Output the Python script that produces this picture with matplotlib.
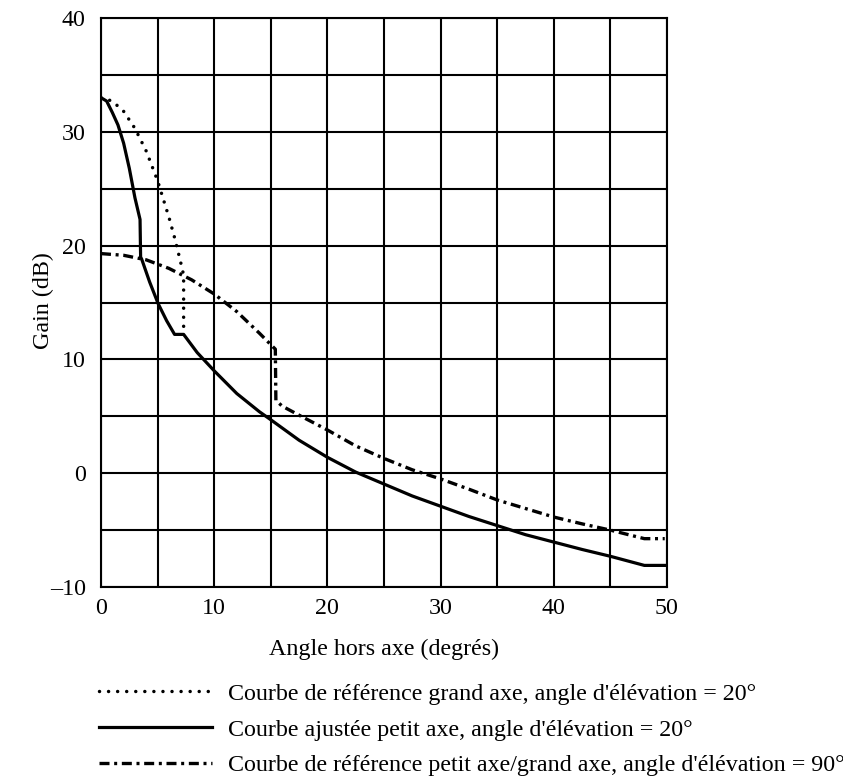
import numpy as np
import matplotlib.pyplot as plt

plt.rcParams['font.family'] = ['Liberation Serif', 'DejaVu Serif']

# courbe ajustée petit axe (trait plein)
solid_x = [0, 0.5, 1.0, 1.5, 2.0, 2.5, 3.0, 3.45, 3.5, 3.6, 4.3, 5.05, 5.8, 6.5, 7.3,
           8.5, 10, 12, 14, 15, 17.5, 20, 22.5, 25, 27.5, 30, 32.5, 35, 37.5, 40,
           42.5, 45, 48, 50]
solid_y = [33.0, 32.7, 31.7, 30.6, 29.0, 26.8, 24.2, 22.3, 19.0, 18.8, 16.8, 14.9, 13.4, 12.2, 12.2,
           10.6, 9.0, 7.0, 5.4, 4.7, 2.9, 1.4, 0.1, -0.95, -2.0, -2.9, -3.8, -4.6, -5.4, -6.05,
           -6.7, -7.3, -8.1, -8.1]

# courbe de référence grand axe (pointillé)
dot_x = [0, 1, 2, 3, 4, 5, 6, 6.5, 7, 7.3, 7.3]
dot_y = [33.0, 32.7, 31.8, 30.3, 28.3, 25.7, 22.5, 20.7, 18.7, 17.4, 12.2]

# courbe de référence petit axe/grand axe, 90° (trait mixte)
dd_x = [0, 2, 4, 6, 8, 10, 12, 14, 15.4, 15.45, 16.0, 17.5, 20, 22.5, 25, 27.5, 30,
        32.5, 35, 37.5, 40, 42.5, 45, 48, 49.8]
dd_y = [19.3, 19.15, 18.75, 18.0, 17.0, 15.75, 14.2, 12.3, 10.9, 6.4, 5.9, 5.1, 3.8, 2.4, 1.3, 0.3, -0.5,
        -1.4, -2.35, -3.1, -3.85, -4.45, -5.0, -5.75, -5.75]

xticks = [0, 10, 20, 30, 40, 50]
yticks = [-10, 0, 10, 20, 30, 40]
ytick_labels = ['\u201310', '0', '10', '20', '30', '40']

labels = ["Courbe de référence grand axe, angle d'élévation = 20°",
          "Courbe ajustée petit axe, angle d'élévation = 20°",
          "Courbe de référence petit axe/grand axe, angle d'élévation = 90°"]

fs = 17.3

fig = plt.figure(figsize=(8.43, 7.77), dpi=100)
ax = fig.add_axes([0.1198, 0.2445, 0.6714, 0.7323])

l1, = ax.plot(dot_x, dot_y, color='black', lw=2.5, linestyle=(0, (0.01, 2.6)),
              dash_capstyle='round', label=labels[0])
l2, = ax.plot(solid_x, solid_y, color='black', lw=2.3, label=labels[1])
l3, = ax.plot(dd_x, dd_y, color='black', lw=2.4, linestyle=(0, (3.0, 1.4, 0.9, 1.4)),
              label=labels[2])

ax.set_xlim(0, 50)
ax.set_ylim(-10, 40)
ax.set_xticks(xticks)
ax.set_xticklabels([str(v) for v in xticks])
ax.set_yticks(yticks)
ax.set_yticklabels(ytick_labels)
ax.set_xticks(np.arange(0, 51, 5), minor=True)
ax.set_yticks(np.arange(-10, 41, 5), minor=True)
ax.grid(which='both', color='black', lw=1.5)
ax.tick_params(which='both', length=0, labelsize=fs)
ax.tick_params(axis='y', pad=11)
ax.tick_params(axis='x', pad=8)
for s in ax.spines.values():
    s.set_linewidth(1.5)

ax.set_xlabel('Angle hors axe (degrés)', fontsize=fs, va='center')
ax.xaxis.set_label_coords(0.5, -0.11)
ax.set_ylabel('Gain (dB)', fontsize=fs, va='center')
ax.yaxis.set_label_coords(-0.102, 0.504)

fig.legend(handles=[l1, l2, l3], loc='upper left', bbox_to_anchor=(0.117, 0.121),
           frameon=False, fontsize=fs, handlelength=4.7, handletextpad=0.67,
           labelspacing=0.58, borderpad=0, borderaxespad=0)

plt.savefig('out.png', dpi=100)
